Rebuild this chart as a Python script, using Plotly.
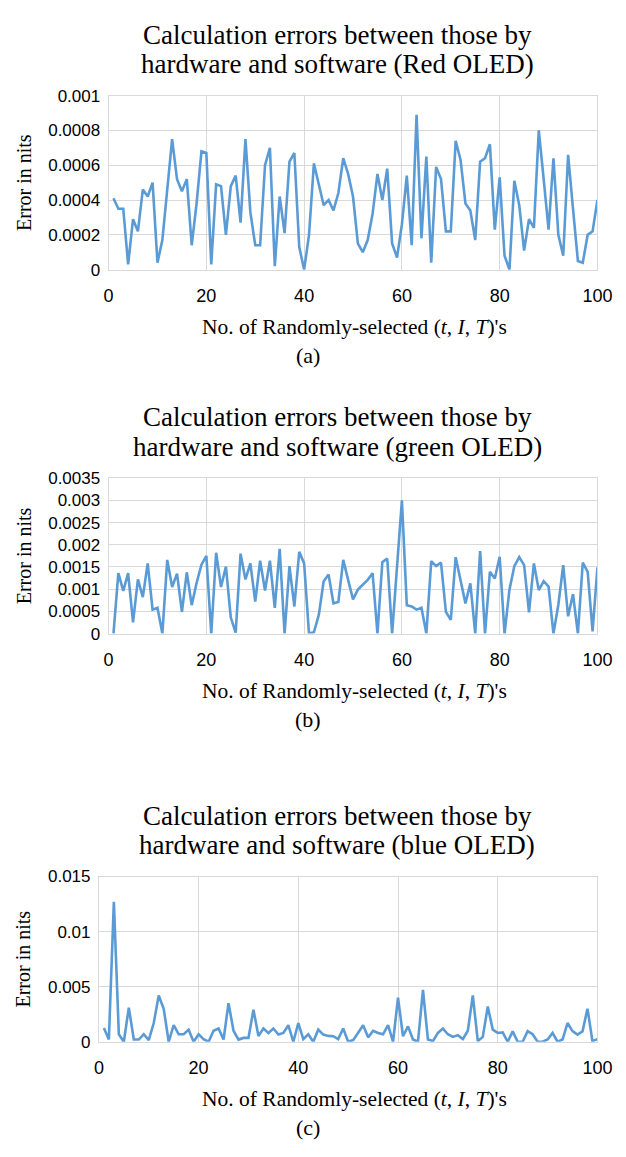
import plotly.graph_objects as go

# Sample numbers 1..100
samples = list(range(1, 101))

red_err = [
    0.00041, 0.00035, 0.00035, 0.00003, 0.00029, 0.00022, 0.00046, 0.00042, 0.00050, 0.00004,
    0.00017, 0.00044, 0.00075, 0.00052, 0.00045, 0.00052, 0.00014, 0.00038, 0.00068, 0.00067,
    0.00003, 0.00049, 0.00048, 0.00020, 0.00048, 0.00054, 0.00027, 0.00075, 0.00033, 0.00014,
    0.00014, 0.00060, 0.00070, 0.00002, 0.00042, 0.00021, 0.00062, 0.00067, 0.00013, 0.00000,
    0.00020, 0.00061, 0.00049, 0.00037, 0.00040, 0.00034, 0.00044, 0.00064, 0.00055, 0.00042,
    0.00015, 0.00010, 0.00017, 0.00032, 0.00055, 0.00040, 0.00058, 0.00015, 0.00007, 0.00026,
    0.00054, 0.00014, 0.00089, 0.00018, 0.00065, 0.00004, 0.00059, 0.00052, 0.00022, 0.00022,
    0.00074, 0.00063, 0.00038, 0.00034, 0.00017, 0.00062, 0.00064, 0.00072, 0.00023, 0.00053,
    0.00008, 0.00000, 0.00051, 0.00037, 0.00011, 0.00029, 0.00024, 0.00080, 0.00052, 0.00023,
    0.00064, 0.00020, 0.00008, 0.00066, 0.00035, 0.00005, 0.00004, 0.00020, 0.00022, 0.00040,
]

green_err = [
    0.00000, 0.00136, 0.00096, 0.00136, 0.00025, 0.00122, 0.00082, 0.00158, 0.00054, 0.00058,
    0.00000, 0.00166, 0.00105, 0.00135, 0.00049, 0.00138, 0.00064, 0.00114, 0.00155, 0.00175,
    0.00000, 0.00182, 0.00105, 0.00151, 0.00036, 0.00002, 0.00180, 0.00122, 0.00158, 0.00072,
    0.00164, 0.00097, 0.00164, 0.00058, 0.00191, 0.00000, 0.00152, 0.00061, 0.00184, 0.00158,
    0.00000, 0.00003, 0.00042, 0.00118, 0.00133, 0.00068, 0.00071, 0.00166, 0.00121, 0.00077,
    0.00099, 0.00111, 0.00121, 0.00136, 0.00000, 0.00161, 0.00169, 0.00000, 0.00150, 0.00300,
    0.00064, 0.00061, 0.00054, 0.00058, 0.00000, 0.00163, 0.00152, 0.00160, 0.00049, 0.00031,
    0.00172, 0.00118, 0.00068, 0.00113, 0.00000, 0.00186, 0.00000, 0.00139, 0.00124, 0.00173,
    0.00000, 0.00099, 0.00152, 0.00172, 0.00154, 0.00048, 0.00158, 0.00098, 0.00118, 0.00106,
    0.00000, 0.00065, 0.00154, 0.00039, 0.00089, 0.00000, 0.00160, 0.00139, 0.00005, 0.00149,
]

blue_err = [
    0.00124, 0.00020, 0.01270, 0.00068, 0.00000, 0.00310, 0.00020, 0.00020, 0.00068, 0.00015,
    0.00170, 0.00420, 0.00300, 0.00000, 0.00150, 0.00068, 0.00068, 0.00110, 0.00000, 0.00068,
    0.00024, 0.00000, 0.00100, 0.00120, 0.00020, 0.00350, 0.00100, 0.00020, 0.00035, 0.00035,
    0.00290, 0.00053, 0.00120, 0.00080, 0.00120, 0.00065, 0.00080, 0.00150, 0.00000, 0.00170,
    0.00024, 0.00068, 0.00000, 0.00110, 0.00065, 0.00053, 0.00050, 0.00024, 0.00120, 0.00000,
    0.00015, 0.00080, 0.00150, 0.00040, 0.00100, 0.00080, 0.00068, 0.00150, 0.00000, 0.00400,
    0.00050, 0.00140, 0.00020, 0.00000, 0.00470, 0.00020, 0.00006, 0.00080, 0.00120, 0.00068,
    0.00044, 0.00060, 0.00024, 0.00100, 0.00420, 0.00006, 0.00044, 0.00320, 0.00110, 0.00080,
    0.00085, 0.00000, 0.00094, 0.00000, 0.00000, 0.00097, 0.00068, 0.00000, 0.00000, 0.00020,
    0.00080, 0.00000, 0.00020, 0.00170, 0.00097, 0.00065, 0.00094, 0.00300, 0.00006, 0.00024,
]

# Axis ticks
x_ticks = [0, 20, 40, 60, 80, 100]
red_ticks = [0, 0.0002, 0.0004, 0.0006, 0.0008, 0.001]
red_tick_text = ["0", "0.0002", "0.0004", "0.0006", "0.0008", "0.001"]
green_ticks = [0, 0.0005, 0.001, 0.0015, 0.002, 0.0025, 0.003, 0.0035]
green_tick_text = ["0", "0.0005", "0.001", "0.0015", "0.002", "0.0025", "0.003", "0.0035"]
blue_ticks = [0, 0.005, 0.01, 0.015]
blue_tick_text = ["0", "0.005", "0.01", "0.015"]

title_line1 = "Calculation errors between those by"
title_line2 = [
    "hardware and software (Red OLED)",
    "hardware and software (green OLED)",
    "hardware and software (blue OLED)",
]
captions = ["(a)", "(b)", "(c)"]
x_title = "No. of Randomly-selected (<i>t</i>, <i>I</i>, <i>T</i>)'s"
y_title = "Error in nits"

W, H = 626, 1157
LINE = "#5B9BD5"
GRID = "#D9D9D9"
SERIF = "Liberation Serif"
SANS = "Liberation Sans"
BLACK = "#000000"


def fx(px):
    return px / W


def fy(py):
    return 1 - py / H


# Plot boxes in pixels: (left, right, top, bottom)
boxes = [
    (107, 612, 88, 265),
    (107, 612, 477, 635),
    (97, 612, 882, 1050),
]
series = [red_err, green_err, blue_err]
y_ranges = [(0, 0.001), (0, 0.0035), (0, 0.015)]
y_tick_sets = [(red_ticks, red_tick_text), (green_ticks, green_tick_text), (blue_ticks, blue_tick_text)]

fig = go.Figure()
annotations = []


def label(text, px, py, size, angle=0):
    return dict(
        text=text, x=fx(px), y=fy(py), xref="paper", yref="paper",
        xanchor="center", yanchor="middle", showarrow=False, textangle=angle,
        font=dict(family=SERIF, size=size, color=BLACK),
    )


for i, (box, ys, yr, (tv, tt)) in enumerate(zip(boxes, series, y_ranges, y_tick_sets)):
    n = "" if i == 0 else str(i + 1)
    left, right, top, bottom = box
    fig.add_trace(go.Scatter(
        x=samples, y=ys, mode="lines",
        line=dict(color=LINE, width=2.6),
        xaxis="x" + n, yaxis="y" + n, showlegend=False,
    ))
    fig.layout["xaxis" + n] = dict(
        domain=[fx(left), fx(right)], anchor="y" + n, range=[0, 100],
        tickvals=x_ticks, showgrid=True, gridcolor=GRID, gridwidth=1,
        zeroline=False, showline=True, linecolor=GRID, linewidth=1, mirror=True,
        ticks="", ticklabelstandoff=10, ticklabeloverflow="allow",
        tickfont=dict(family=SANS, size=18, color=BLACK),
    )
    fig.layout["yaxis" + n] = dict(
        domain=[fy(bottom), fy(top)], anchor="x" + n, range=list(yr),
        tickvals=tv, ticktext=tt, showgrid=True, gridcolor=GRID, gridwidth=1,
        zeroline=False, showline=True, linecolor=GRID, linewidth=1, mirror=True,
        ticks="", ticklabelstandoff=4,
        tickfont=dict(family=SANS, size=17, color=BLACK),
    )
    # chart title, two lines
    annotations.append(label(title_line1, 343, top - 62, 27))
    annotations.append(label(title_line2[i], 343, top - 32, 27))
    # x-axis title
    annotations.append(label(x_title, (107 + 612) / 2 + 2, bottom + 58, 21.5))
    # panel caption
    annotations.append(label(captions[i], 313, bottom + 87, 22))
    # y-axis title
    annotations.append(label(y_title, 19, (top + bottom) / 2, 20, angle=-90))

fig.update_layout(
    width=W, height=H, margin=dict(l=0, r=0, t=0, b=0),
    paper_bgcolor="#FFFFFF", plot_bgcolor="#FFFFFF",
    annotations=annotations,
)

fig.write_html("out.html")
